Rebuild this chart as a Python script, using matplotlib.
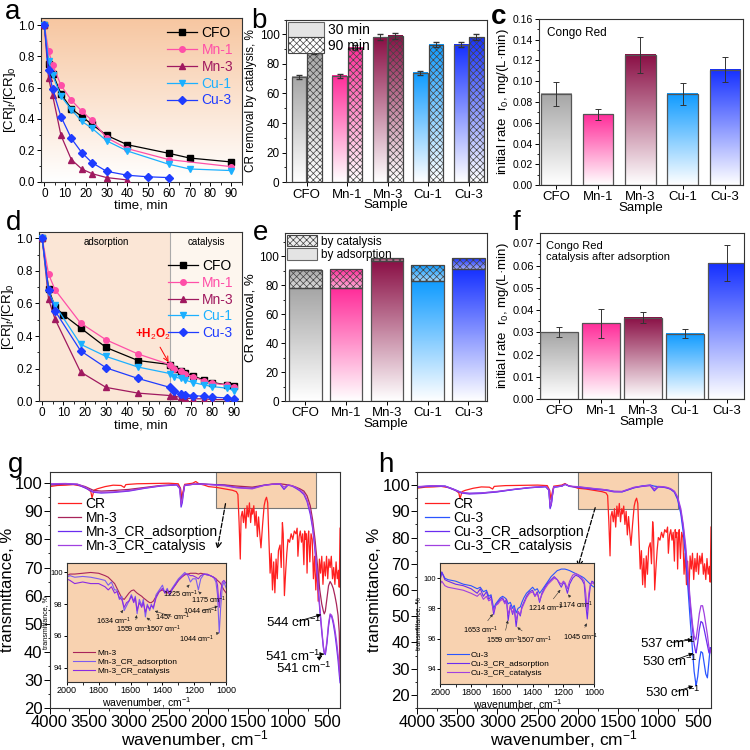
import numpy as np
import matplotlib
matplotlib.use('Agg')
import matplotlib.pyplot as plt
from matplotlib.colors import LinearSegmentedColormap, to_rgb
from matplotlib.patches import Rectangle, Patch
from matplotlib.ticker import AutoMinorLocator, MultipleLocator

plt.rcParams['font.family'] = ['Liberation Sans', 'DejaVu Sans']
plt.rcParams['mathtext.fontset'] = 'custom'
plt.rcParams['mathtext.rm'] = 'Liberation Sans'
plt.rcParams['mathtext.it'] = 'Liberation Sans:italic'
plt.rcParams['mathtext.bf'] = 'Liberation Sans:bold'
plt.rcParams['hatch.linewidth'] = 0.5

# ---------------- data ----------------
samples = ['CFO', 'Mn-1', 'Mn-3', 'Cu-1', 'Cu-3']
line_cols = ['black', '#ff4fa8', '#a0195f', '#1cb0ff', '#1f3cff']
bar_cols = ['#a6a6a6', '#ff2d9a', '#8a0f45', '#0f9bff', '#1530ff']
markers = ['s', 'o', '^', 'v', 'D']

# panel a: catalysis kinetics
t_a = [[0, 2, 4, 8, 13, 18, 23, 30, 40, 60, 70, 90],
       [0, 2, 4, 8, 13, 18, 23, 30, 40, 60, 90],
       [0, 2, 4, 8, 13, 18, 23, 30, 40],
       [0, 2, 4, 8, 13, 18, 23, 30, 40, 60, 70, 90],
       [0, 2, 4, 8, 13, 18, 23, 30, 40, 50, 60]]
c_a = [[1.0, 0.75, 0.69, 0.56, 0.465, 0.415, 0.365, 0.295, 0.235, 0.18, 0.15, 0.125],
       [1.0, 0.835, 0.745, 0.615, 0.52, 0.45, 0.39, 0.28, 0.21, 0.14, 0.095],
       [1.0, 0.66, 0.55, 0.295, 0.14, 0.08, 0.05, 0.025, 0.01],
       [1.0, 0.77, 0.68, 0.545, 0.46, 0.385, 0.34, 0.26, 0.195, 0.11, 0.08, 0.07],
       [1.0, 0.71, 0.59, 0.415, 0.275, 0.185, 0.12, 0.065, 0.04, 0.03, 0.025]]

# panel b: removal by catalysis
rem_30 = [71, 72, 98, 74, 93]
rem_30_err = [1.5, 1.5, 2, 1.5, 1.5]
rem_90 = [88, 91, 99, 93, 98]
rem_90_err = [1.5, 1.8, 2, 1.8, 2]

# panel c: initial rate
rate_c = [0.088, 0.068, 0.125, 0.088, 0.111]
rate_c_err = [0.0115, 0.005, 0.017, 0.0105, 0.012]

# panel d: adsorption then catalysis
t_d = [0, 3, 6, 10, 18, 30, 45, 60, 62, 65, 67, 71, 76, 80, 87, 90]
t_d_short = [0, 3, 6, 18, 30, 45, 60, 62, 65, 67, 71, 76, 80, 87, 90]
c_d = [[1.0, 0.69, 0.58, 0.53, 0.45, 0.33, 0.25, 0.225, 0.20, 0.185, 0.175, 0.155, 0.13, 0.115, 0.10, 0.095],
       [1.0, 0.78, 0.685, 0.48, 0.377, 0.29, 0.225, 0.20, 0.185, 0.17, 0.15, 0.125, 0.11, 0.10, 0.09],
       [1.0, 0.625, 0.505, 0.18, 0.085, 0.05, 0.035, 0.03, 0.025, 0.02, 0.015, 0.015, 0.01, 0.01, 0.01],
       [1.0, 0.67, 0.59, 0.35, 0.275, 0.21, 0.17, 0.15, 0.14, 0.13, 0.115, 0.10, 0.09, 0.08, 0.065],
       [1.0, 0.68, 0.555, 0.31, 0.205, 0.14, 0.085, 0.06, 0.045, 0.04, 0.035, 0.03, 0.025, 0.02, 0.015]]

# panel e: removal split
rem_ads = [78, 78, 97, 83, 91.5]
rem_total = [90.5, 91, 99, 94, 99]

# panel f: initial rate after adsorption
rate_f = [0.030, 0.034, 0.0365, 0.0293, 0.061]
rate_f_err = [0.0022, 0.0065, 0.0025, 0.002, 0.008]

# IR: Congo Red
cr_wn = [4000, 3900, 3800, 3700, 3600, 3520, 3480, 3465, 3440, 3400, 3300, 3200, 3100, 3060, 3040, 3000,
         2900, 2700, 2500, 2380, 2350, 2335, 2320, 2300, 2200, 2160, 2120, 2050, 2000, 1900, 1800, 1700,
         1650, 1630, 1615, 1600, 1590, 1575, 1560, 1545, 1530, 1515, 1500, 1485, 1470, 1455, 1445, 1430,
         1415, 1400, 1385, 1370, 1355, 1340, 1320, 1300, 1285, 1270, 1255, 1240, 1225, 1210, 1195, 1180,
         1165, 1150, 1135, 1120, 1100, 1085, 1070, 1060, 1045, 1030, 1015, 1000, 980, 960, 940, 920, 900,
         885, 875, 860, 845, 830, 815, 800, 790, 780, 770, 760, 750, 740, 725, 710, 695, 680, 665, 650,
         635, 620, 605, 590, 575, 560, 545, 530, 515, 500, 485, 470, 455, 440, 425, 410, 395, 380, 365,
         355, 345]
cr_t = [98.8, 99.2, 99.3, 99.5, 99, 98, 97, 94.8, 97.5, 98, 98.8, 99.3, 99.2, 98.5, 99.5, 99.6,
        99.8, 99.9, 100, 99.8, 98, 94.5, 97, 99.6, 100, 100.6, 99.8, 99.3, 98.8, 98.5, 98, 97.5,
        97, 96, 86, 73, 88, 90, 86, 91, 84, 92, 88, 93, 86, 91, 89, 92,
        85, 90, 81, 88, 82, 77, 85, 92, 94, 95, 93, 80, 68, 75, 62, 72,
        61, 73, 66, 76, 78, 70, 86, 82, 60, 68, 75, 80, 79, 82, 80, 83, 82,
        84, 74, 81, 83, 79, 82, 71, 83, 80, 82, 68, 80, 83, 72, 82, 80, 66, 74, 62,
        71, 58, 73, 68, 74, 64, 72, 67, 74, 66, 73, 70, 74, 66, 70, 64, 72, 66, 69,
        63, 84]

# IR: Mn-3 series
mn_wn = [4000, 3800, 3650, 3550, 3450, 3350, 3200, 3000, 2800, 2600, 2400, 2360, 2345, 2330, 2315, 2300,
         2200, 2100, 2000, 1800, 1650, 1550, 1450, 1300, 1200, 1100, 1050, 1000, 950, 900, 850, 800,
         760, 720, 690, 660, 630, 600, 575, 555, 544, 530, 510, 490, 470, 450, 430, 410, 390, 370, 355, 345]
mn3_t = [99.3, 99.7, 99.6, 98.8, 97.5, 97.2, 97.4, 97.8, 98.5, 99.2, 99.5, 98.5, 94, 95.5, 97, 99.3,
         99.6, 99.8, 99.6, 99.4, 99, 98.8, 98.6, 99.3, 99.7, 99.8, 99.6, 99.4, 99.1, 98.6, 98, 97.2,
         95.5, 92, 87, 80, 71, 62, 57, 54.5, 53.5, 54.5, 59, 63.5, 65, 64, 62.5, 60, 57, 53, 47, 33]
mn3_ads_t = [99.6, 99.8, 99.5, 98.3, 96.8, 96.5, 96.7, 97.2, 98.2, 99.0, 99.4, 98, 91.5, 93, 96.5, 99.2,
             99.6, 99.7, 99.6, 99.3, 98.5, 98.3, 98.2, 99.3, 99.6, 99.7, 97.8, 99.3, 99.0, 98.2, 97.3, 96,
             93.5, 89, 84, 76, 66, 55, 47, 41.5, 39.5, 39, 43, 49, 53, 52.5, 50, 46.5, 42, 37, 32, 29]
mn3_cat_t = [99.8, 99.9, 99.7, 98.6, 97.0, 96.8, 96.9, 97.4, 98.3, 99.1, 99.5, 98.2, 92.5, 94, 96.8, 99.3,
             99.6, 99.7, 99.5, 99.1, 98.4, 98.2, 98.0, 99.2, 99.6, 99.8, 98.6, 99.4, 99.1, 98.5, 97.6, 96.4,
             94, 90, 85, 77, 67, 56, 48, 42, 40, 39.5, 44, 50, 53.5, 53, 51, 48, 44, 39, 34, 31]

# IR: Cu-3 series
cu_wn = [4000, 3800, 3650, 3550, 3450, 3350, 3200, 3000, 2800, 2600, 2400, 2360, 2345, 2330, 2315, 2300,
         2200, 2160, 2100, 2000, 1800, 1650, 1550, 1450, 1300, 1200, 1100, 1050, 1000, 950, 900, 850,
         800, 760, 720, 690, 660, 630, 600, 575, 555, 537, 530, 510, 490, 470, 450, 430, 410, 390, 370,
         355, 345]
cu3_t = [99.2, 99.7, 99.6, 98.5, 97.2, 96.8, 97.0, 97.5, 98.3, 99.0, 99.4, 98.2, 91.5, 93, 96.5, 99.2,
         99.6, 100.3, 99.5, 99.3, 98.6, 98.2, 97.6, 97.5, 99.0, 99.7, 100, 99.6, 99.4, 99.3, 99.0, 98.5,
         97.3, 94.5, 89, 82, 72, 60, 47, 37, 29, 25, 23.5, 27, 33, 36.5, 36, 32, 28, 26.5, 33,
         38, 37]
cu3_ads_t = [99.3, 99.7, 99.5, 98.3, 97.0, 96.6, 96.8, 97.4, 98.3, 99.0, 99.4, 98, 91, 92.5, 96.3, 99.2,
             99.6, 100.3, 99.5, 99.2, 98.4, 98.0, 97.4, 97.4, 99.0, 99.5, 99.8, 97.8, 99.3, 99.2, 99.0, 98.5,
             97.4, 95, 90, 84, 75, 64, 53, 45, 39.5, 36.5, 36, 40, 45, 48, 47.5, 45, 42, 39, 36,
             38, 37]
cu3_cat_t = [99.4, 99.8, 99.6, 98.5, 97.2, 96.9, 97.0, 97.6, 98.4, 99.1, 99.5, 98.2, 92, 93, 96.5, 99.3,
             99.6, 100.3, 99.6, 99.4, 98.7, 98.2, 97.6, 97.6, 99.2, 99.6, 100, 98.5, 99.5, 99.4, 99.2, 98.7,
             97.7, 95.5, 91, 85, 77, 66, 55, 47, 42.5, 41, 41.5, 46, 51, 54, 54, 51, 47, 43, 38,
             37, 36]

# IR insets (2000-1000 cm-1)
ins_g_wn = [2000, 1980, 1950, 1900, 1850, 1800, 1760, 1740, 1720, 1700, 1685, 1670, 1655, 1640, 1625,
            1610, 1595, 1580, 1570, 1559, 1545, 1530, 1520, 1507, 1495, 1480, 1470, 1457, 1440, 1420,
            1400, 1385, 1370, 1355, 1340, 1320, 1300, 1280, 1260, 1240, 1225, 1210, 1190, 1175, 1160,
            1140, 1120, 1100, 1080, 1065, 1055, 1044, 1035, 1025, 1015, 1000]
ins_mn3 = [99.8, 99.9, 99.9, 99.95, 100, 99.95, 99.8, 99.7, 99.5, 99.3, 99.0, 98.7, 98.4, 98.3, 98.5,
           98.7, 98.85, 98.9, 98.8, 98.7, 98.6, 98.5, 98.4, 98.3, 98.2, 98.1, 98.1, 98.2, 98.5, 98.8,
           98.9, 98.8, 98.7, 98.8, 98.95, 99.2, 99.5, 99.7, 99.85, 99.9, 99.95, 99.95, 99.95, 99.9, 99.95,
           99.9, 99.85, 99.8, 99.7, 99.6, 99.5, 99.4, 99.3, 99.1, 98.9, 98.7]
ins_mn3_ads = [99.7, 99.8, 99.7, 99.75, 99.7, 99.6, 99.5, 99.2, 99.4, 98.9, 98.9, 98.3, 98.5, 97.6, 97.9,
               98.2, 98.6, 98.2, 98.5, 97.4, 98.3, 97.9, 98.3, 97.2, 98.0, 97.6, 98.0, 97.7, 98.6, 98.9,
               99.2, 98.7, 99.0, 98.6, 99.0, 99.3, 99.6, 99.8, 100, 99.8, 99.4, 99.6, 99.6, 98.9, 99.6,
               99.9, 99.85, 99.8, 99.7, 99.4, 98.6, 96.2, 97.8, 99.1, 99.4, 99.0]
ins_mn3_cat = [99.6, 99.5, 99.3, 99.4, 99.3, 99.3, 99.1, 98.9, 99.1, 98.7, 98.8, 98.4, 98.3, 97.8, 98.1,
               98.2, 98.5, 98.1, 98.4, 97.6, 98.1, 97.8, 98.1, 97.5, 97.9, 97.7, 97.9, 97.8, 98.4, 98.8,
               99.0, 98.7, 98.9, 98.6, 98.9, 99.2, 99.5, 99.7, 99.9, 99.9, 99.8, 99.8, 99.7, 99.6, 99.8,
               99.9, 99.9, 99.8, 99.7, 99.6, 99.2, 97.8, 98.8, 99.4, 99.5, 99.3]

ins_h_wn = [2000, 1990, 1970, 1950, 1900, 1850, 1800, 1760, 1740, 1720, 1700, 1685, 1670, 1653, 1640,
            1625, 1610, 1595, 1580, 1570, 1559, 1545, 1530, 1520, 1507, 1495, 1480, 1470, 1457, 1440,
            1420, 1400, 1385, 1370, 1355, 1340, 1320, 1300, 1280, 1260, 1240, 1225, 1214, 1200, 1190,
            1174, 1160, 1140, 1120, 1100, 1080, 1065, 1055, 1045, 1035, 1025, 1015, 1000]
ins_cu3 = [100.0, 100.4, 100.0, 99.9, 99.8, 99.6, 99.5, 99.3, 99.4, 99.1, 99.2, 98.8, 98.9, 98.0, 98.3,
           98.5, 98.7, 98.8, 98.7, 98.6, 98.3, 98.4, 98.0, 98.2, 97.7, 98.0, 98.1, 98.4, 98.7, 99.0,
           99.2, 99.4, 99.2, 99.3, 99.0, 99.2, 99.5, 99.8, 100.1, 100.3, 100.5, 100.55, 100.6, 100.6, 100.6,
           100.55, 100.5, 100.4, 100.3, 100.2, 100.1, 100.0, 99.9, 99.8, 99.7, 99.6, 99.5, 99.4]
ins_cu3_ads = [99.9, 100.4, 99.9, 99.8, 99.6, 99.5, 99.3, 99.0, 99.3, 98.8, 99.1, 98.6, 98.8, 97.6, 98.2,
               98.4, 98.6, 98.7, 98.4, 98.6, 97.2, 98.2, 97.6, 98.0, 96.8, 97.8, 97.5, 98.1, 98.4, 98.8,
               99.1, 99.2, 98.8, 99.1, 98.4, 99.0, 99.4, 99.7, 99.9, 100.1, 99.9, 99.6, 99.4, 99.7, 99.6,
               99.0, 99.6, 100.0, 100.2, 100.1, 99.9, 99.6, 98.3, 97.3, 98.6, 99.5, 99.8, 99.7]
ins_cu3_cat = [99.6, 99.8, 99.5, 99.4, 99.3, 99.2, 99.0, 98.8, 99.0, 98.6, 98.8, 98.5, 98.6, 97.8, 98.2,
               98.3, 98.5, 98.6, 98.3, 98.5, 97.6, 98.1, 97.7, 98.0, 97.2, 97.8, 97.6, 98.0, 98.3, 98.7,
               99.0, 99.1, 98.8, 99.0, 98.5, 98.9, 99.3, 99.6, 99.8, 100.0, 99.9, 99.7, 99.6, 99.8, 99.7,
               99.3, 99.8, 100.2, 100.3, 100.2, 100.0, 99.8, 99.0, 97.8, 99.0, 99.6, 99.7, 99.6]

ir_red = '#ff2020'
mn3_col = '#a8245a'
ads_col = '#6a2cf0'
cat_col = '#a040e0'
cu3_col = '#2a55ff'
peach = '#f8d2b0'


def style(ax, fs=8.5):
    ax.tick_params(direction='out', labelsize=fs, length=3, width=0.7, pad=1.5)
    ax.tick_params(which='minor', direction='out', length=1.8, width=0.6)
    for s in ax.spines.values():
        s.set_linewidth(0.8)
        s.set_color('#333333')


def grad(ax, x, y0, y1, w, c, lo='white'):
    cm = LinearSegmentedColormap.from_list('g', [lo, c])
    ax.imshow(np.linspace(0, 1, 128)[:, None], cmap=cm, origin='lower', aspect='auto',
              extent=(x - w / 2, x + w / 2, y0, y1), zorder=1, interpolation='bilinear')


def lighten(c, f):
    r = np.array(to_rgb(c))
    return tuple(r + (1 - r) * f)


def rate_panel(ax, vals, errs, w):
    xs = np.arange(len(samples))
    for i, v in enumerate(vals):
        grad(ax, xs[i], 0, v, w, bar_cols[i])
    ax.bar(xs, vals, w, fill=False, edgecolor='#555555', lw=0.9, zorder=3)
    ax.errorbar(xs, vals, yerr=errs, fmt='none', ecolor='#333333', elinewidth=0.7, capsize=2, capthick=0.7, zorder=4)
    ax.set_xticks(xs)
    ax.set_xticklabels(samples, fontsize=9.5)
    ax.set_ylabel('initial rate  r$_0$, mg/(L·min)', fontsize=9.5, labelpad=1)
    ax.set_xlabel('Sample', fontsize=9.5, labelpad=-1)
    ax.yaxis.set_minor_locator(AutoMinorLocator(2))


fig = plt.figure(figsize=(7.5, 7.5), dpi=100)

# ---------------- a ----------------
ax = fig.add_axes([0.055, 0.758, 0.267, 0.218])
style(ax)
bg = LinearSegmentedColormap.from_list('bg', ['white', '#f7c6a0'])
ax.imshow(np.linspace(0, 1, 256)[:, None], cmap=bg, origin='lower', aspect='auto',
          extent=(0, 1, 0, 1), transform=ax.transAxes, zorder=0)
for i, s in enumerate(samples):
    ax.plot(t_a[i], c_a[i], marker=markers[i], color=line_cols[i], lw=0.9, ms=4, label=s, zorder=3)
ax.set_xlim(-1.5, 95)
ax.set_ylim(0, 1.045)
ax.xaxis.set_major_locator(MultipleLocator(10))
ax.yaxis.set_major_locator(MultipleLocator(0.2))
ax.xaxis.set_minor_locator(AutoMinorLocator(2))
ax.yaxis.set_minor_locator(AutoMinorLocator(2))
ax.set_xlabel('time, min', fontsize=9.5, labelpad=0)
ax.set_ylabel('[CR]$_t$/[CR]$_0$', fontsize=9.5, labelpad=0)
ax.legend(loc='upper right', frameon=False, fontsize=10, labelcolor=line_cols, handlelength=2.2,
          handletextpad=0.3, labelspacing=0.2, borderaxespad=0.2)
fig.text(0.006, 0.984, 'a', fontsize=20, va='center')

# ---------------- b ----------------
ax = fig.add_axes([0.381, 0.757, 0.268, 0.217])
style(ax)
xs = np.arange(len(samples))
bw = 0.36
for i in range(len(samples)):
    grad(ax, xs[i] - 0.19, 0, rem_30[i], bw, bar_cols[i])
    grad(ax, xs[i] + 0.19, 0, rem_90[i], bw, bar_cols[i])
ax.bar(xs - 0.19, rem_30, bw, fill=False, edgecolor='#555555', lw=0.9, zorder=3)
ax.bar(xs + 0.19, rem_90, bw, fill=False, hatch='xxxxx', edgecolor='#444444', lw=0.9, zorder=3)
ax.errorbar(xs - 0.19, rem_30, yerr=rem_30_err, fmt='none', ecolor='#333333', elinewidth=0.7, capsize=2, zorder=4)
ax.errorbar(xs + 0.19, rem_90, yerr=rem_90_err, fmt='none', ecolor='#333333', elinewidth=0.7, capsize=2, zorder=4)
ax.set_xlim(-0.52, 4.45)
ax.set_ylim(0, 110)
ax.set_xticks(xs)
ax.set_xticklabels(samples, fontsize=9.5)
ax.yaxis.set_major_locator(MultipleLocator(20))
ax.yaxis.set_minor_locator(AutoMinorLocator(2))
ax.set_ylabel('CR removal by catalysis, %', fontsize=8.5, labelpad=2)
ax.set_xlabel('Sample', fontsize=9.5, labelpad=-1)
hb = [Patch(facecolor='#e4e4e4', edgecolor='#666666', lw=0.8),
      Patch(facecolor='white', edgecolor='#444444', hatch='xxxxx', lw=0.8)]
ax.legend(hb, ['30 min', '90 min'], loc='upper left', frameon=False, fontsize=10, handlelength=2.6,
          handleheight=1.3, handletextpad=0.3, labelspacing=0.05, borderaxespad=0.05, borderpad=0.1)
fig.text(0.335, 0.972, 'b', fontsize=20, va='center')

# ---------------- c ----------------
ax = fig.add_axes([0.719, 0.753, 0.271, 0.222])
style(ax, 7.5)
rate_panel(ax, rate_c, rate_c_err, 0.72)
ax.set_xlim(-0.4, 4.42)
ax.set_ylim(0, 0.16)
ax.yaxis.set_major_locator(MultipleLocator(0.02))
ax.text(0.04, 0.95, 'Congo Red', transform=ax.transAxes, fontsize=8.5, va='top')
fig.text(0.655, 0.978, 'c', fontsize=20, va='center', fontweight='bold')

# ---------------- d ----------------
ax = fig.add_axes([0.052, 0.465, 0.271, 0.226])
style(ax)
ax.axvspan(-1.5, 60, color='#fbe6d6', zorder=0, lw=0)
ax.axvspan(60, 95, color='#fdf6ee', zorder=0, lw=0)
ax.axvline(60, color='#aaaaaa', lw=0.8, zorder=1)
for i, s in enumerate(samples):
    tt = t_d if i == 0 else t_d_short
    ax.plot(tt, c_d[i], marker=markers[i], color=line_cols[i], lw=0.9, ms=4, label=s, zorder=3)
ax.set_xlim(-1.5, 94)
ax.set_ylim(0, 1.04)
ax.xaxis.set_major_locator(MultipleLocator(10))
ax.yaxis.set_major_locator(MultipleLocator(0.2))
ax.xaxis.set_minor_locator(AutoMinorLocator(2))
ax.yaxis.set_minor_locator(AutoMinorLocator(2))
ax.set_xlabel('time, min', fontsize=9.5, labelpad=0)
ax.set_ylabel('[CR]$_t$/[CR]$_0$', fontsize=9.5, labelpad=0)
ax.text(30, 0.975, 'adsorption', fontsize=7, ha='center', va='center')
ax.text(77, 0.975, 'catalysis', fontsize=7, ha='center', va='center')
ax.annotate('+H$_2$O$_2$', xy=(60, 0.225), xytext=(52, 0.41), color='red', fontsize=8.5, fontweight='bold',
            ha='center', va='center', arrowprops=dict(arrowstyle='->', color='red', lw=0.7))
ax.legend(loc='center right', bbox_to_anchor=(1.0, 0.6), frameon=False, fontsize=10, labelcolor=line_cols,
          handlelength=2.2, handletextpad=0.3, labelspacing=0.2, borderaxespad=0.2)
fig.text(0.008, 0.702, 'd', fontsize=20, va='center')

# ---------------- e ----------------
ax = fig.add_axes([0.38, 0.465, 0.269, 0.224])
style(ax)
bw = 0.8
for i in range(len(samples)):
    grad(ax, xs[i], 0, rem_ads[i], bw, bar_cols[i])
    grad(ax, xs[i], rem_ads[i], rem_total[i], bw, bar_cols[i], lo=lighten(bar_cols[i], 0.6))
cat_part = [rem_total[i] - rem_ads[i] for i in range(len(samples))]
ax.bar(xs, rem_ads, bw, fill=False, edgecolor='#555555', lw=0.9, zorder=3)
ax.bar(xs, cat_part, bw, bottom=rem_ads, fill=False, hatch='xxxxx', edgecolor='#444444', lw=0.9, zorder=3)
ax.set_xlim(-0.5, 4.45)
ax.set_ylim(0, 116)
ax.set_xticks(xs)
ax.set_xticklabels(samples, fontsize=9.5)
ax.yaxis.set_major_locator(MultipleLocator(20))
ax.yaxis.set_minor_locator(AutoMinorLocator(2))
ax.set_ylabel('CR removal, %', fontsize=9.5, labelpad=2)
ax.set_xlabel('Sample', fontsize=9.5, labelpad=-1)
he = [Patch(facecolor='#eeeeee', edgecolor='#444444', hatch='xxxxx', lw=0.8),
      Patch(facecolor='#e4e4e4', edgecolor='#666666', lw=0.8)]
ax.legend(he, ['by catalysis', 'by adsorption'], loc='upper left', frameon=False, fontsize=8.5,
          handlelength=2.6, handleheight=1.1, handletextpad=0.3, labelspacing=0.05,
          borderaxespad=0.05, borderpad=0.1)
fig.text(0.337, 0.69, 'e', fontsize=20, va='center')

# ---------------- f ----------------
ax = fig.add_axes([0.72, 0.468, 0.272, 0.221])
style(ax, 8)
rate_panel(ax, rate_f, rate_f_err, 0.9)
ax.set_xlim(-0.46, 4.4)
ax.set_ylim(0, 0.0745)
ax.yaxis.set_major_locator(MultipleLocator(0.01))
ax.text(0.03, 0.955, 'Congo Red\ncatalysis after adsorption', transform=ax.transAxes, fontsize=8,
        va='top', linespacing=1.1)
fig.text(0.683, 0.703, 'f', fontsize=20, va='center')


# ---------------- IR panels ----------------
def ir_panel(rect, sets, ylim, box, arrow, notes):
    ax = fig.add_axes(rect)
    style(ax, 12)
    ax.tick_params(length=4, pad=1)
    ax.add_patch(Rectangle((box[0], box[2]), box[1] - box[0], box[3] - box[2], facecolor=peach,
                           edgecolor='#777777', lw=0.8, zorder=0))
    for wn, tr, col, lab in sets:
        ax.plot(wn, tr, color=col, lw=0.9, label=lab, zorder=2)
    ax.set_xlim(4000, 345)
    ax.set_ylim(*ylim)
    ax.xaxis.set_major_locator(MultipleLocator(500))
    ax.yaxis.set_major_locator(MultipleLocator(10))
    ax.xaxis.set_minor_locator(AutoMinorLocator(2))
    ax.yaxis.set_minor_locator(AutoMinorLocator(2))
    ax.set_xlabel('wavenumber, cm$^{-1}$', fontsize=12.5, labelpad=-1)
    ax.set_ylabel('transmittance, %', fontsize=12, labelpad=0)
    ax.legend(loc='upper left', bbox_to_anchor=(0.0, 0.93), frameon=False, fontsize=10, handlelength=1.7,
              handletextpad=0.3, labelspacing=0.0, borderaxespad=0.2)
    ax.annotate('', xy=arrow[1], xytext=arrow[0],
                arrowprops=dict(arrowstyle='->', color='black', lw=0.9, ls='--'), zorder=5)
    for txt, xy, xyt in notes:
        ax.annotate(txt, xy=xy, xytext=xyt, fontsize=9.5, ha='center', va='center',
                    arrowprops=dict(arrowstyle='-|>', color='black', lw=0.6, mutation_scale=6), zorder=5)
    return ax


def ir_inset(rect, sets, ylim, notes):
    ax = fig.add_axes(rect)
    ax.set_facecolor(peach)
    style(ax, 6)
    ax.tick_params(labelsize=6.5, length=2, pad=1)
    for wn, tr, col, lab in sets:
        ax.plot(wn, tr, color=col, lw=0.8, label=lab)
    ax.set_xlim(2000, 1000)
    ax.set_ylim(*ylim)
    ax.xaxis.set_major_locator(MultipleLocator(200))
    ax.yaxis.set_major_locator(MultipleLocator(2))
    ax.xaxis.set_minor_locator(AutoMinorLocator(2))
    ax.set_xlabel('wavenumber, cm$^{-1}$', fontsize=7.5, labelpad=0)
    ax.set_ylabel('transmittance, %', fontsize=5, labelpad=1)
    ax.tick_params(axis='y', labelsize=5.5)
    ax.legend(loc='lower left', frameon=False, fontsize=6, handlelength=2.6, handletextpad=0.3,
              labelspacing=0.15, borderaxespad=0.4)
    for txt, xy, xyt in notes:
        ax.annotate(txt, xy=xy, xytext=xyt, fontsize=5.2, ha='center', va='center',
                    arrowprops=dict(arrowstyle='-|>', color='#333333', lw=0.4, mutation_scale=4,
                                    shrinkA=1, shrinkB=1))
    return ax


cm1 = ' cm$^{-1}$'
ir_panel([0.066, 0.056, 0.3874, 0.3147],
         [(cr_wn, cr_t, ir_red, 'CR'), (mn_wn, mn3_t, mn3_col, 'Mn-3'),
          (mn_wn, mn3_ads_t, ads_col, 'Mn-3_CR_adsorption'), (mn_wn, mn3_cat_t, cat_col, 'Mn-3_CR_catalysis')],
         (20, 104), (1900, 650, 91.3, 104), ((1780, 93.7), (1895, 75.6)),
         [('544' + cm1, (548, 53.5), (920, 50.5)), ('541' + cm1, (545, 39.2), (940, 38.5)),
          ('541' + cm1, (545, 39.0), (800, 34.0))])
fig.text(0.01, 0.38, 'g', fontsize=20, va='center')

ir_inset([0.089, 0.0907, 0.2127, 0.1587],
         [(ins_g_wn, ins_mn3, mn3_col, 'Mn-3'), (ins_g_wn, ins_mn3_ads, '#7b5cf0', 'Mn-3_CR_adsorption'),
          (ins_g_wn, ins_mn3_cat, '#8a2be2', 'Mn-3_CR_catalysis')],
         (93.1, 100.6),
         [('1634' + cm1, (1640, 97.7), (1708, 96.9)), ('1559' + cm1, (1560, 97.4), (1578, 96.4)),
          ('1507' + cm1, (1507, 97.2), (1391, 96.4)), ('1457' + cm1, (1457, 97.6), (1335, 97.2)),
          ('1225' + cm1, (1225, 99.3), (1286, 98.6)), ('1175' + cm1, (1175, 98.8), (1110, 98.25)),
          ('1044' + cm1, (1044, 97.9), (1160, 97.55)), ('1044' + cm1, (1044, 96.2), (1186, 95.8))])

ir_panel([0.556, 0.056, 0.392, 0.3147],
         [(cr_wn, cr_t, ir_red, 'CR'), (cu_wn, cu3_t, cu3_col, 'Cu-3'),
          (cu_wn, cu3_ads_t, ads_col, 'Cu-3_CR_adsorption'), (cu_wn, cu3_cat_t, cat_col, 'Cu-3_CR_catalysis')],
         (15, 105), (2000, 750, 90.8, 105), ((1775, 92.4), (2010, 67.6)),
         [('537' + cm1, (540, 41.2), (880, 39.8)), ('530' + cm1, (532, 36.2), (860, 32.6)),
          ('530' + cm1, (532, 23.7), (820, 20.8))])
fig.text(0.504, 0.38, 'h', fontsize=20, va='center')

ir_inset([0.587, 0.088, 0.2053, 0.1613],
         [(ins_h_wn, ins_cu3, cu3_col, 'Cu-3'), (ins_h_wn, ins_cu3_ads, ads_col, 'Cu-3_CR_adsorption'),
          (ins_h_wn, ins_cu3_cat, cat_col, 'Cu-3_CR_catalysis')],
         (93, 101),
         [('1653' + cm1, (1653, 97.7), (1739, 96.55)), ('1559' + cm1, (1559, 97.3), (1590, 95.9)),
          ('1507' + cm1, (1507, 96.8), (1385, 95.9)), ('1214' + cm1, (1214, 99.3), (1314, 98.0)),
          ('1174' + cm1, (1174, 99.0), (1118, 98.2)), ('1045' + cm1, (1045, 97.1), (1090, 96.1))])

fig.savefig('out.png', dpi=100)
